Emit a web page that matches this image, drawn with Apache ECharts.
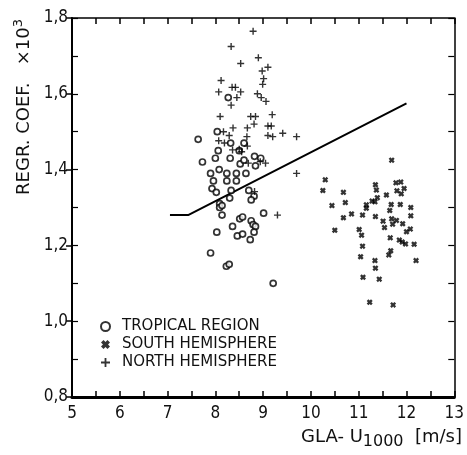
<!DOCTYPE html>
<html><head><meta charset="utf-8">
<script src="https://cdn.jsdelivr.net/npm/echarts@6/dist/echarts.min.js"></script>
<style>html,body{margin:0;padding:0;background:#fff}#c{width:467px;height:455px}</style>
</head><body><div id="c"></div>
<script>
const seriesNames = ['TROPICAL REGION', 'SOUTH HEMISPHERE', 'NORTH HEMISPHERE'];
const tropical = [[8.27,1.59],[7.64,1.48],[8.04,1.50],[8.32,1.47],[8.60,1.47],[8.06,1.45],[8.31,1.43],[8.50,1.45],[8.00,1.43],[7.73,1.42],[8.52,1.415],[8.60,1.425],[8.82,1.435],[8.95,1.43],[8.84,1.41],[7.90,1.39],[8.08,1.40],[8.24,1.39],[8.44,1.39],[8.64,1.39],[7.96,1.37],[8.24,1.37],[8.44,1.37],[7.93,1.35],[8.02,1.34],[8.33,1.345],[8.70,1.345],[8.81,1.33],[8.30,1.325],[8.75,1.32],[8.09,1.31],[8.09,1.30],[8.14,1.305],[8.14,1.28],[9.01,1.285],[8.51,1.27],[8.57,1.275],[8.75,1.265],[8.79,1.255],[8.84,1.25],[8.81,1.235],[8.03,1.235],[8.36,1.25],[8.46,1.225],[8.57,1.23],[8.73,1.215],[7.90,1.18],[8.23,1.145],[8.29,1.15],[9.21,1.10]];
const south = [[11.69,1.425],[10.30,1.373],[10.25,1.345],[10.68,1.34],[11.35,1.36],[11.37,1.346],[11.78,1.365],[11.88,1.367],[11.95,1.35],[11.80,1.344],[11.89,1.336],[11.58,1.333],[11.39,1.326],[11.28,1.317],[11.34,1.315],[10.72,1.313],[10.44,1.305],[11.16,1.307],[11.16,1.298],[11.68,1.308],[11.87,1.308],[12.09,1.30],[11.65,1.292],[10.85,1.283],[11.08,1.28],[11.35,1.276],[12.09,1.278],[11.69,1.27],[11.79,1.266],[10.68,1.273],[11.51,1.264],[11.71,1.256],[11.92,1.257],[11.54,1.247],[12.08,1.243],[12.00,1.236],[10.50,1.24],[11.01,1.242],[11.06,1.227],[11.66,1.22],[11.85,1.214],[11.91,1.209],[11.98,1.204],[12.16,1.203],[11.08,1.198],[11.67,1.186],[11.63,1.175],[11.04,1.17],[12.20,1.16],[11.34,1.16],[11.35,1.14],[11.09,1.116],[11.43,1.111],[11.23,1.05],[11.72,1.043]];
const north = [[8.79,1.765],[8.33,1.725],[8.53,1.68],[8.90,1.695],[9.10,1.67],[8.98,1.66],[9.01,1.64],[8.12,1.635],[8.99,1.625],[8.35,1.617],[8.42,1.617],[8.07,1.605],[8.53,1.605],[8.45,1.59],[8.88,1.60],[8.96,1.59],[9.06,1.58],[8.33,1.57],[8.10,1.54],[8.74,1.54],[8.84,1.54],[9.19,1.545],[8.17,1.50],[8.37,1.51],[8.67,1.51],[8.81,1.52],[9.10,1.515],[9.17,1.515],[8.29,1.49],[8.66,1.487],[9.10,1.49],[9.20,1.487],[8.07,1.476],[8.19,1.47],[8.36,1.452],[8.50,1.454],[8.55,1.447],[8.67,1.462],[8.69,1.417],[8.94,1.421],[9.05,1.417],[9.41,1.496],[9.70,1.487],[9.70,1.39],[9.30,1.28],[8.82,1.342]];
const fitLine = [[7.05,1.28],[7.43,1.28],[12.0,1.575]];
const xTickLabels = ['5','6','7','8','9','10','11','12','13'];
const yTickLabels = ['0,8','1,0','1,2','1,4','1,6','1,8'];

const FONT = '"DejaVu Sans Condensed","Liberation Sans Narrow","DejaVu Sans",sans-serif';
const FONT_W = '"DejaVu Sans",sans-serif';
const plusPath = 'path://M2,0 L3,0 L3,2 L5,2 L5,3 L3,3 L3,5 L2,5 L2,3 L0,3 L0,2 L2,2 Z';
const crossPath = 'path://M0,1.4 L1.4,0 L2.5,1.1 L3.6,0 L5,1.4 L3.9,2.5 L5,3.6 L3.6,5 L2.5,3.9 L1.4,5 L0,3.6 L1.1,2.5 Z';

const chart = echarts.init(document.getElementById('c'), null, {renderer: 'canvas'});
const axisCommon = {min: 5, max: 13, interval: 0.5};
const yCommon = {min: 0.8, max: 1.8};
chart.setOption({
  animation: false,
  backgroundColor: '#fff',
  grid: {left: 72, right: 8, top: 18, bottom: 58, containLabel: false},
  legend: {
    orient: 'vertical', left: 95, top: 314, itemGap: 3, itemWidth: 9, itemHeight: 9,
    textStyle: {fontFamily: FONT_W, fontSize: 15, color: '#111', padding: [0, 0, 0, 7]},
    data: [
      {name: seriesNames[0], icon: 'circle'},
      {name: seriesNames[1], icon: crossPath},
      {name: seriesNames[2], icon: plusPath}
    ],
    selectedMode: false
  },
  xAxis: [
    Object.assign({type: 'value', position: 'bottom',
      axisLine: {lineStyle: {color: '#000', width: 3}},
      axisTick: {inside: true, length: 6, lineStyle: {color: '#000', width: 1.5}},
      splitLine: {show: false},
      axisLabel: {margin: 8, color: '#111', fontFamily: FONT, fontSize: 17,
        formatter: v => (Math.abs(v - Math.round(v)) < 1e-6 ? xTickLabels[Math.round(v) - 5] : '')}
    }, axisCommon),
    Object.assign({type: 'value', position: 'top',
      axisLine: {lineStyle: {color: '#000', width: 1.5}},
      axisTick: {inside: true, length: 6, lineStyle: {color: '#000', width: 1.5}},
      splitLine: {show: false}, axisLabel: {show: false}
    }, axisCommon)
  ],
  yAxis: [
    Object.assign({type: 'value', position: 'left', interval: 0.2,
      axisLine: {lineStyle: {color: '#000', width: 2}},
      axisTick: {inside: false, length: 6, lineStyle: {color: '#000', width: 1.5}},
      splitLine: {show: false},
      axisLabel: {margin: 4, color: '#111', fontFamily: FONT, fontSize: 17,
        formatter: v => yTickLabels[Math.round((v - 0.8) / 0.2)] || ''}
    }, yCommon),
    Object.assign({type: 'value', position: 'left', interval: 0.1,
      axisLine: {show: false},
      axisTick: {inside: true, length: 6, lineStyle: {color: '#000', width: 1.2}},
      splitLine: {show: false}, axisLabel: {show: false}
    }, yCommon),
    Object.assign({type: 'value', position: 'right', interval: 0.1,
      axisLine: {lineStyle: {color: '#000', width: 1.5}},
      axisTick: {inside: true, length: 6, lineStyle: {color: '#000', width: 1.2}},
      splitLine: {show: false}, axisLabel: {show: false}
    }, yCommon)
  ],
  series: [
    {name: seriesNames[0], type: 'scatter', data: tropical, symbol: 'circle', symbolSize: 6,
      itemStyle: {color: '#fff', borderColor: '#000', borderWidth: 1.7}},
    {name: seriesNames[1], type: 'scatter', data: south, symbol: crossPath, symbolSize: 6,
      itemStyle: {color: '#000'}},
    {name: seriesNames[2], type: 'scatter', data: north, symbol: plusPath, symbolSize: 7,
      itemStyle: {color: '#000'}},
    {name: 'fit', type: 'line', data: fitLine, showSymbol: false, symbol: 'none',
      lineStyle: {color: '#000', width: 2}, z: 1}
  ],
  graphic: [
    {type: 'text', right: 5, top: 428,
      style: {text: 'GLA- U{s|1000}  [m/s]', fontFamily: FONT_W, fontSize: 18, fill: '#111',
        rich: {s: {fontFamily: FONT_W, fontSize: 16, fill: '#111', padding: [10, 0, 0, 0]}}}},
    {type: 'text', x: 24, y: 107, rotation: Math.PI / 2,
      style: {text: 'REGR. COEF.   ×10{p|3}', fontFamily: FONT_W, fontSize: 18, fill: '#111',
        align: 'center', verticalAlign: 'middle',
        rich: {p: {fontFamily: FONT_W, fontSize: 13, fill: '#111', padding: [0, 0, 10, 0]}}}}
  ]
});
</script></body></html>
